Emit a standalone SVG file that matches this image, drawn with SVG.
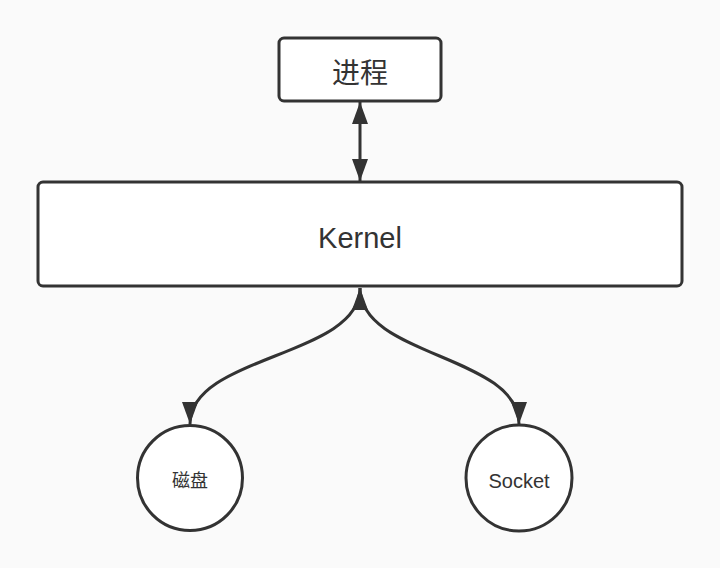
<svg xmlns="http://www.w3.org/2000/svg" width="720" height="568" viewBox="0 0 720 568">
<style>
.box{fill:#ffffff;stroke:#333333;stroke-width:3}
.conn{fill:none;stroke:#333333;stroke-width:3}
.t{font-family:"Liberation Sans","Noto Sans CJK SC",sans-serif;fill:#333333;text-anchor:middle}
.c{font-family:"Noto Sans CJK SC",sans-serif;fill:#333333;text-anchor:middle;dominant-baseline:central}
</style>
<defs>
<marker id="ah" markerUnits="userSpaceOnUse" markerWidth="24" markerHeight="18" viewBox="0 0 24 18" refX="22" refY="9" orient="auto-start-reverse">
<path d="M0,1 L22,9 L0,17 z" fill="#333333"/>
</marker>
</defs>
<rect x="0" y="0" width="720" height="568" fill="#fafafa"/>
<g id="connectors">
<path class="conn" d="M360,102 L360,181" marker-start="url(#ah)" marker-end="url(#ah)"/>
<path class="conn" d="M360,288 C360,357 190,355 190,424" marker-start="url(#ah)" marker-end="url(#ah)"/>
<path class="conn" d="M360,288 C360,357 519,355 519,424" marker-end="url(#ah)"/>
</g>
<g id="process">
<rect class="box" x="279" y="38" width="162" height="63" rx="5"/>
<text class="c" x="360" y="71" font-size="28">进程</text>
</g>
<g id="kernel">
<rect class="box" x="38" y="182" width="644" height="104" rx="5"/>
<text class="t" x="360" y="248" font-size="29">Kernel</text>
</g>
<g id="disk">
<circle class="box" cx="190" cy="478" r="52.5"/>
<text class="c" x="190" y="479" font-size="18">磁盘</text>
</g>
<g id="socket">
<circle class="box" cx="519" cy="478" r="53"/>
<text class="t" x="519" y="488" font-size="20">Socket</text>
</g>
</svg>
